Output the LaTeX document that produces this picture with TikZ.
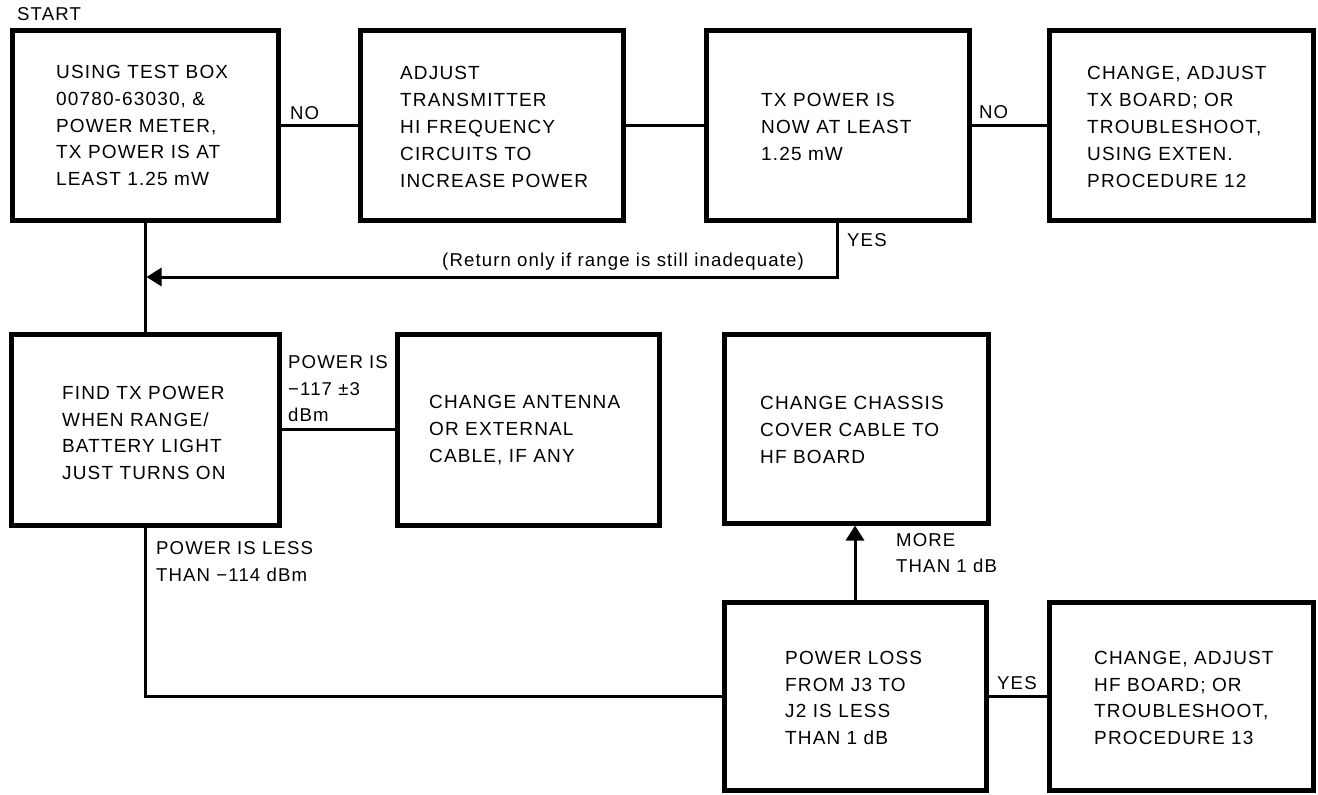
\documentclass[tikz,border=0pt]{standalone}
\usepackage{fontspec}
\setmainfont{Liberation Sans}[LetterSpace=6]
\usetikzlibrary{arrows.meta}
\begin{document}
\begin{tikzpicture}[x=1pt,y=-1pt,
  box/.style={draw, line width=5pt, inner sep=0pt},
  txt/.style={anchor=west, align=left, inner sep=0pt, font=\fontsize{19}{26.8}\selectfont},
  lbl/.style={anchor=west, align=left, inner sep=0pt, font=\fontsize{18.6}{26.5}\selectfont},
  conn/.style={line width=3pt},
  tipend/.style={-{Triangle[length=15pt,width=18pt]}}
]
\useasboundingbox[fill=white] (0,0) rectangle (1318,795);

% boxes
\node[box, minimum width=266pt, minimum height=190pt] (A) at (145,125) {};
\node[box, minimum width=263pt, minimum height=190pt] (B) at (491.5,125) {};
\node[box, minimum width=263pt, minimum height=190pt] (C) at (837.5,125) {};
\node[box, minimum width=264pt, minimum height=190pt] (D) at (1181,125) {};
\node[box, minimum width=268pt, minimum height=191pt] (E) at (145,429.5) {};
\node[box, minimum width=262pt, minimum height=191pt] (F) at (528,429.5) {};
\node[box, minimum width=264pt, minimum height=189pt] (G) at (856,428.5) {};
\node[box, minimum width=262pt, minimum height=188pt] (H) at (855,696) {};
\node[box, minimum width=264pt, minimum height=188pt] (I) at (1181,696) {};

% box texts
\node[txt] (tA) at (56,125.5) {USING TEST BOX\\00780-63030, \&\\POWER METER,\\TX POWER IS AT\\LEAST 1.25 mW};
\node[txt] (tB) at (400,127) {ADJUST\\TRANSMITTER\\HI FREQUENCY\\CIRCUITS TO\\INCREASE POWER};
\node[txt] (tC) at (761,127) {TX POWER IS\\NOW AT LEAST\\1.25 mW};
\node[txt] (tD) at (1087,127) {CHANGE, ADJUST\\TX BOARD; OR\\TROUBLESHOOT,\\USING EXTEN.\\PROCEDURE 12};
\node[txt] (tE) at (62,433) {FIND TX POWER\\WHEN RANGE/\\BATTERY LIGHT\\JUST TURNS ON};
\node[txt] (tF) at (429,430) {CHANGE ANTENNA\\OR EXTERNAL\\CABLE, IF ANY};
\node[txt] (tG) at (760,430) {CHANGE CHASSIS\\COVER CABLE TO\\HF BOARD};
\node[txt] (tH) at (785,698) {POWER LOSS\\FROM J3 TO\\J2 IS LESS\\THAN 1 dB};
\node[txt] (tI) at (1094,698) {CHANGE, ADJUST\\HF BOARD; OR\\TROUBLESHOOT,\\PROCEDURE 13};

% labels
\node[lbl] (start) at (17,14.5) {START};
\node[lbl] (no1) at (290,113) {NO};
\node[lbl] (no2) at (979,112) {NO};
\node[lbl] (yes1) at (847,240) {YES};
\node[lbl] (ret) at (442,262) {(Return only if range is still inadequate)};
\node[lbl] (pw1) at (288,389) {POWER IS\\−117 ±3\\dBm};
\node[lbl] (pw2) at (156,561.5) {POWER IS LESS\\THAN −114 dBm};
\node[lbl] (more) at (896,553) {MORE\\THAN 1 dB};
\node[lbl] (yes2) at (997,683) {YES};

% connectors
\draw[conn] (A.east) -- (A.east -| B.west);
\draw[conn] (B.east) -- (B.east -| C.west);
\draw[conn] (C.east) -- (C.east -| D.west);
\draw[conn] (A.south) -- (E.north);
\coordinate (J) at (146.5,277);
\draw[conn, tipend] (C.south) |- (J);
\draw[conn] (E.east) -- (E.east -| F.west);
\draw[conn] (E.south) |- (H.west);
\draw[conn, tipend] (H.north) -- (H.north |- G.south);
\draw[conn] (H.east) -- (H.east -| I.west);
\end{tikzpicture}
\end{document}
